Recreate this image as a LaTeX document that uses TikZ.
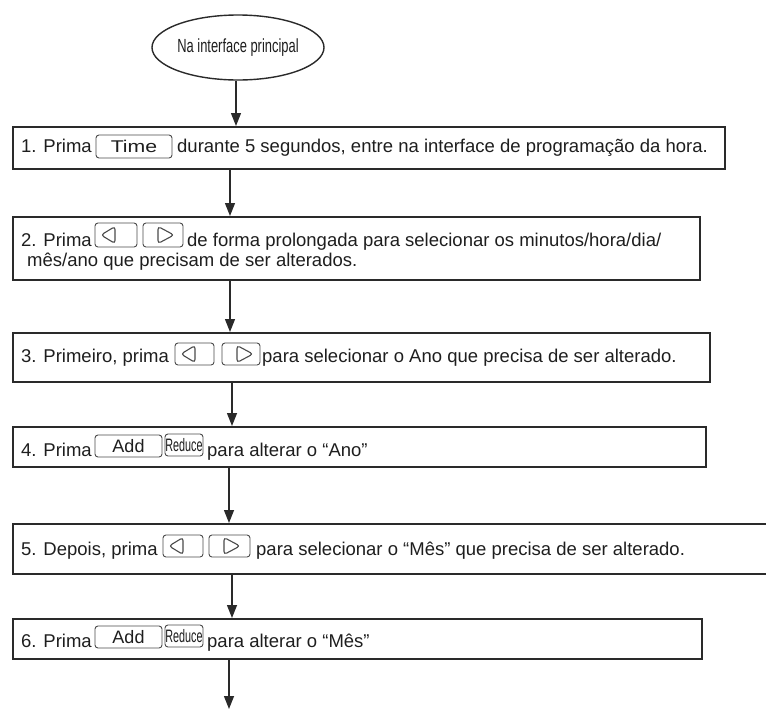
\documentclass[tikz,border=0pt]{standalone}
\usepackage{fontspec}
\usepackage{graphicx}
\setmainfont{Liberation Sans}
\usetikzlibrary{arrows.meta,shapes.geometric,calc}
\definecolor{boxc}{HTML}{2A2A2A}
\definecolor{btnc}{HTML}{4A4A4A}
\definecolor{txtc}{HTML}{1E1E1E}
\newcommand\narrowtxt[2]{\scalebox{#1}[1]{#2}}
\begin{document}
\begin{tikzpicture}[x=1pt,y=-1pt,
  stepbox/.style={draw=boxc, line width=1.6pt, inner sep=0pt, anchor=north west},
  txt/.style={inner sep=0pt, anchor=base west, text=txtc, font=\fontsize{18.5}{20}\selectfont},
  btn/.style={draw=btnc, line width=0.9pt, rounded corners=3pt, inner sep=0pt, text=txtc, font=\fontsize{18}{20}\selectfont},
  tri/.style={draw=btnc, line width=1.1pt, line join=miter},
  lkey/.style={btn, path picture={\draw[tri] ([xshift=6pt]path picture bounding box.west) -- ([xshift=20pt,yshift=8.5pt]path picture bounding box.west) -- ([xshift=20pt,yshift=-8.5pt]path picture bounding box.west) -- cycle;}},
  rkey/.style={btn, path picture={\draw[tri] ([xshift=31pt]path picture bounding box.west) -- ([xshift=15pt,yshift=8.5pt]path picture bounding box.west) -- ([xshift=15pt,yshift=-8.5pt]path picture bounding box.west) -- cycle;}},
  redkey/.style={btn, font=\fontsize{18}{20}\selectfont},
  arr/.style={draw=boxc, line width=1.4pt, -{Triangle[width=10pt,length=13pt]}},
]
\clip (0,0) rectangle (766,710);

% start ellipse
\node[draw=boxc, ellipse, line width=1.4pt, minimum width=172pt, minimum height=65pt, inner sep=0pt, text=txtc, font=\fontsize{19}{19}\selectfont] (start) at (238,47.5) {\narrowtxt{0.68}{Na interface principal}};

% step boxes
\node[stepbox, minimum width=712pt, minimum height=42pt] (s1) at (12,126) {};
\node[stepbox, minimum width=687pt, minimum height=63pt] (s2) at (12,216) {};
\node[stepbox, minimum width=697pt, minimum height=49pt] (s3) at (12,332) {};
\node[stepbox, minimum width=693pt, minimum height=40pt] (s4) at (12,426) {};
\node[stepbox, minimum width=768pt, minimum height=50pt] (s5) at (12,523) {};
\node[stepbox, minimum width=689pt, minimum height=40pt] (s6) at (12,618) {};

% step 1
\node[txt] (t1a) at (21,152) {1. Prima};
\node[btn, minimum width=76pt, minimum height=23pt, font=\fontsize{17}{20}\selectfont] (k1) at (134,146.5) {\narrowtxt{1.25}{Time}};
\node[txt] (t1b) at (177,152) {durante 5 segundos, entre na interface de programação da hora.};

% step 2
\node[txt] (t2a) at (21,246) {2. Prima};
\node[lkey, minimum width=42pt, minimum height=24pt] (k2l) at (116,235) {};
\node[rkey, minimum width=40pt, minimum height=24pt] (k2r) at (163,235) {};
\node[txt] (t2b) at (187,246) {de forma prolongada para selecionar os minutos/hora/dia/};
\node[txt] (t2c) at (27,266) {mês/ano que precisam de ser alterados.};

% step 3
\node[txt] (t3a) at (21,362) {3. Primeiro, prima};
\node[lkey, minimum width=39pt, minimum height=22pt] (k3l) at (194.5,354) {};
\node[rkey, minimum width=38pt, minimum height=22pt] (k3r) at (241,354) {};
\node[txt] (t3b) at (262,362) {para selecionar o Ano que precisa de ser alterado.};

% step 4
\node[txt] (t4a) at (21,456) {4. Prima};
\node[btn, minimum width=67pt, minimum height=22pt] (k4a) at (128.5,446) {Add};
\node[redkey, minimum width=38pt, minimum height=22pt] (k4r) at (184,445) {\narrowtxt{0.60}{Reduce}};
\node[txt] (t4b) at (207,456) {para alterar o “Ano”};

% step 5
\node[txt] (t5a) at (21,555) {5. Depois, prima};
\node[lkey, minimum width=40pt, minimum height=22pt] (k5l) at (183,546) {};
\node[rkey, minimum width=41pt, minimum height=22pt] (k5r) at (229.5,546) {};
\node[txt] (t5b) at (256,555) {para selecionar o “Mês” que precisa de ser alterado.};

% step 6
\node[txt] (t6a) at (21,647) {6. Prima};
\node[btn, minimum width=67pt, minimum height=22pt] (k6a) at (128.5,637) {Add};
\node[redkey, minimum width=38pt, minimum height=22pt] (k6r) at (184,636) {\narrowtxt{0.60}{Reduce}};
\node[txt] (t6b) at (207,647) {para alterar o “Mês”};

% connector x positions
\coordinate (x0) at (236,0);
\coordinate (x1) at (230,0);
\coordinate (x2) at (230,0);
\coordinate (x3) at (232,0);
\coordinate (x4) at (229,0);
\coordinate (x5) at (232,0);
\coordinate (end) at (229,709);

\draw[arr] (start.south -| x0) -- (s1.north -| x0);
\draw[arr] (s1.south -| x1) -- (s2.north -| x1);
\draw[arr] (s2.south -| x2) -- (s3.north -| x2);
\draw[arr] (s3.south -| x3) -- (s4.north -| x3);
\draw[arr] (s4.south -| x4) -- (s5.north -| x4);
\draw[arr] (s5.south -| x5) -- (s6.north -| x5);
\draw[arr] (s6.south -| end) -- (end);
\end{tikzpicture}
\end{document}
